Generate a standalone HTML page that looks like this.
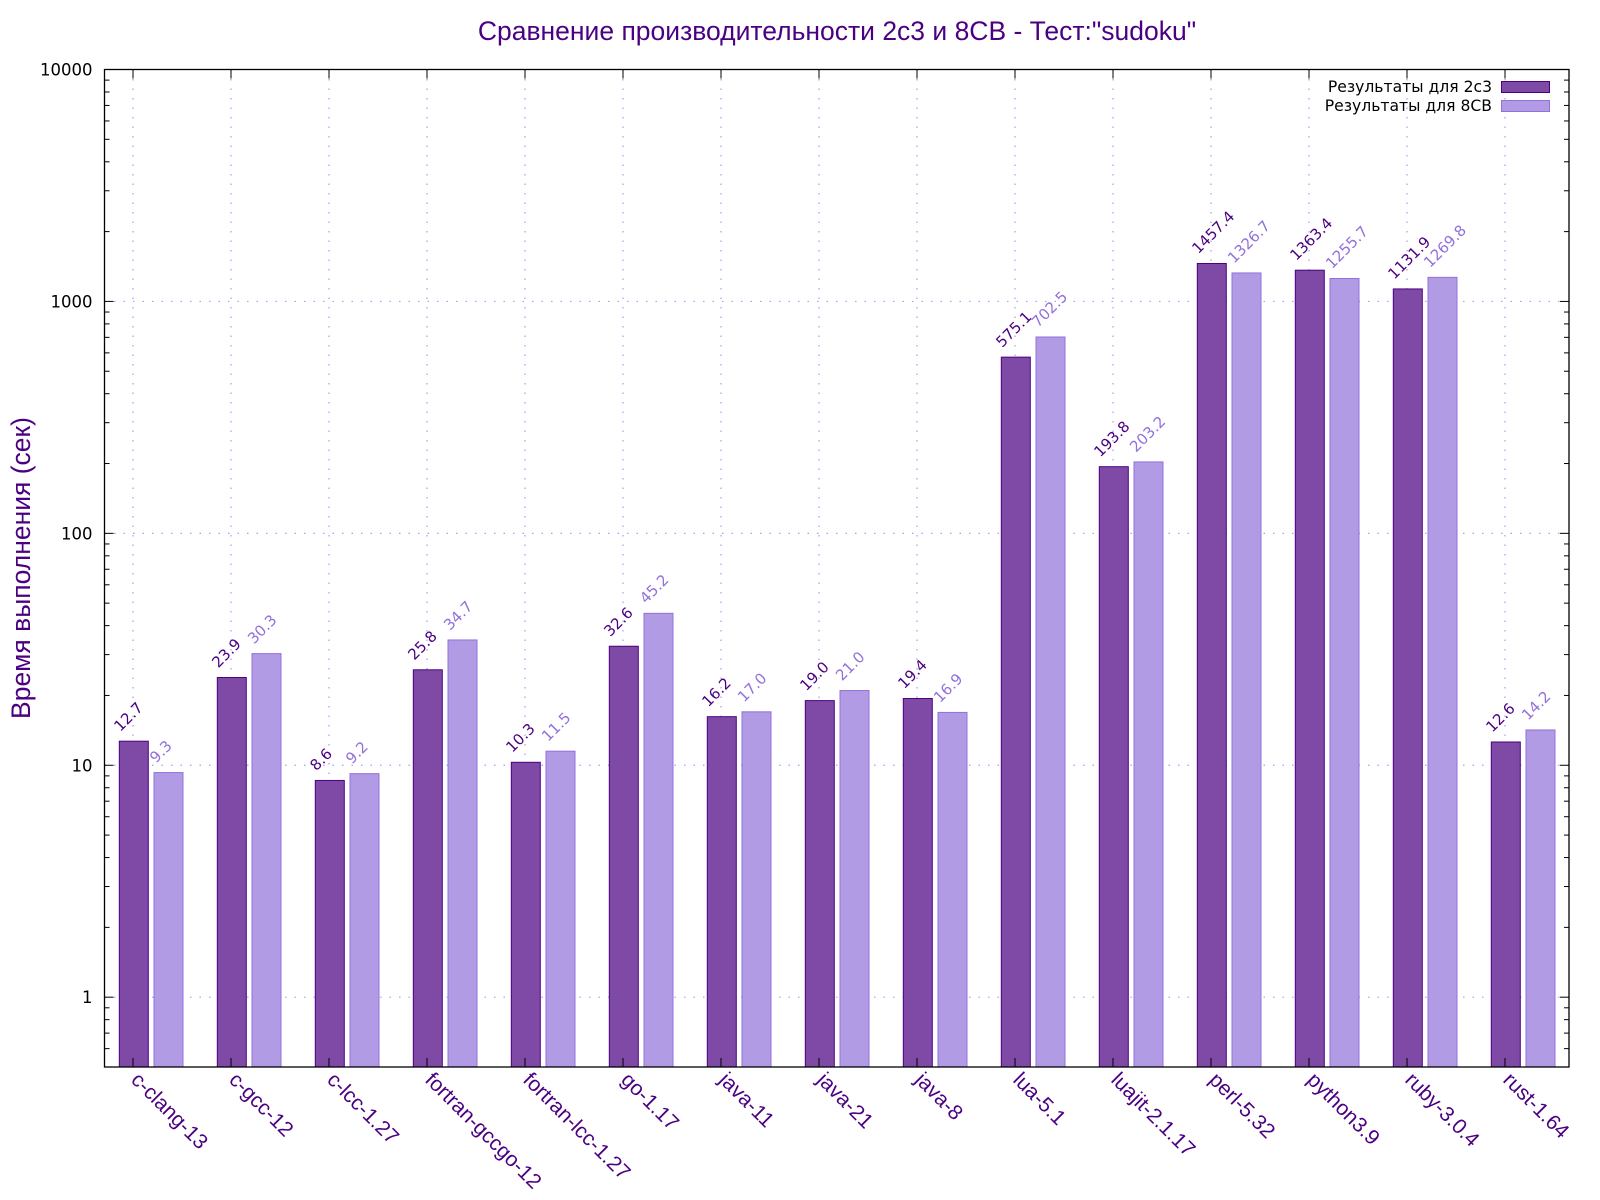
<!DOCTYPE html>
<html><head><meta charset="utf-8"><style>
html,body{margin:0;padding:0;background:#fff;}
svg{display:block;font-family:"Liberation Sans","DejaVu Sans",sans-serif;}
.dv{font-family:"DejaVu Sans","Liberation Sans",sans-serif;}
</style></head><body>
<svg id="chart" width="1600" height="1200" viewBox="0 0 1600 1200" xmlns="http://www.w3.org/2000/svg">
<rect width="1600" height="1200" fill="#fff"/>
<text x="837" y="40" font-size="26.5" fill="#4b0082" text-anchor="middle">Сравнение производительности 2с3 и 8СВ - Тест:"sudoku"</text>
<text transform="translate(30,568) rotate(-90)" font-size="26.5" fill="#4b0082" text-anchor="middle">Время выполнения (сек)</text>
<g id="grid"></g><g id="bars"></g><g id="axes"></g><g id="labels"></g>
<g class="dv">
<text x="1492" y="92" font-size="15.6" text-anchor="end" fill="#000">Результаты для 2с3</text>
<rect x="1501.5" y="81.5" width="48" height="11" fill="#7f4aa6" stroke="#4b0082" stroke-width="1"/>
<text x="1492" y="111" font-size="15.6" text-anchor="end" fill="#000">Результаты для 8СВ</text>
<rect x="1501.5" y="100.5" width="48" height="11" fill="#b19be5" stroke="#9370db" stroke-width="1"/>
</g>
</svg>
<script>
const categories=["c-clang-13","c-gcc-12","c-lcc-1.27","fortran-gccgo-12","fortran-lcc-1.27","go-1.17","java-11","java-21","java-8","lua-5.1","luajit-2.1.17","perl-5.32","python3.9","ruby-3.0.4","rust-1.64"];
const series2c3=[12.7,23.9,8.6,25.8,10.3,32.6,16.2,19.0,19.4,575.1,193.8,1457.4,1363.4,1131.9,12.6];
const series8cb=[9.3,30.3,9.2,34.7,11.5,45.2,17.0,21.0,16.9,702.5,203.2,1326.7,1255.7,1269.8,14.2];
const yTicks=[1,10,100,1000,10000];
const yTickLabels=["1","10","100","1000","10000"];

const NS="http://www.w3.org/2000/svg";
const L=104.5,R=1569,T=69.5,B=1067;
const yMin=0.5,yMax=10000;
function y(v){return B-(Math.log10(v)-Math.log10(yMin))/(Math.log10(yMax)-Math.log10(yMin))*(B-T);}
const step=98;
function xt(i){return 133+i*step;}
function mk(tag,attrs,parent){const e=document.createElementNS(NS,tag);for(const k in attrs)e.setAttribute(k,attrs[k]);parent.appendChild(e);return e;}
const grid=document.getElementById('grid'),bars=document.getElementById('bars'),axes=document.getElementById('axes'),labels=document.getElementById('labels');
const gstyle={stroke:"#a0a0f0","stroke-width":1.2,"stroke-dasharray":"1.5,8"};
yTicks.forEach((v,k)=>{
  const yy=y(v);
  if(v<yMax){const g=mk('line',Object.assign({x1:L,x2:R,y1:yy,y2:yy},gstyle),grid);
  
  }
  const t=mk('text',{x:L-12,y:yy+6,"font-size":16.5,"text-anchor":"end",fill:"#000","class":"dv"},axes);
  t.textContent=yTickLabels[k];
  
  
  [L,R].forEach(xx=>{const d=xx===L?1:-1;mk('line',{x1:xx,x2:xx+d*9,y1:yy,y2:yy,stroke:"#000","stroke-width":1},axes);});
});
for(let d=0;d<5;d++){for(let m=2;m<=9;m++){const v=m*Math.pow(10,d-1);if(v<yMin||v>yMax)continue;const yy=y(v);
  [L,R].forEach(xx=>{const dd=xx===L?1:-1;mk('line',{x1:xx,x2:xx+dd*5,y1:yy,y2:yy,stroke:"#000","stroke-width":1},axes);});}}
categories.forEach((c,i)=>{
  const x0=xt(i);
  const g=mk('line',Object.assign({x1:x0,x2:x0,y1:T,y2:B},gstyle),grid);
  
  
  mk('line',{x1:x0,x2:x0,y1:B,y2:B-9,stroke:"#000"},axes);
  mk('line',{x1:x0,x2:x0,y1:T,y2:T+9,stroke:"#000"},axes);
  const dl=x0-13.7, ll=x0+21;
  const b1=mk('rect',{x:dl,y:y(series2c3[i]),width:29,height:B-y(series2c3[i]),fill:"#7f4aa6",stroke:"#4b0082","stroke-width":1},bars);
  
  
  const b2=mk('rect',{x:ll,y:y(series8cb[i]),width:29,height:B-y(series8cb[i]),fill:"#b19be5",stroke:"#9370db","stroke-width":1},bars);
  
  
  const v1=mk('text',{transform:`translate(${dl+1},${y(series2c3[i])-9}) rotate(-45)`,"font-size":15,fill:"#4b0082","class":"dv"},labels);
  v1.textContent=series2c3[i].toFixed(1);
  
  
  const v2=mk('text',{transform:`translate(${ll+2},${y(series8cb[i])-9}) rotate(-45)`,"font-size":15,fill:"#9370db","class":"dv"},labels);
  v2.textContent=series8cb[i].toFixed(1);
  
  
  const xl=mk('text',{transform:`translate(${x0-3},${B+14}) rotate(45)`,"font-size":21,fill:"#4b0082"},labels);
  xl.textContent=c;
  
  
});
const frame=mk('rect',{x:L,y:T,width:R-L,height:B-T,fill:"none",stroke:"#000","stroke-width":1.3},axes);


</script>
</body></html>
